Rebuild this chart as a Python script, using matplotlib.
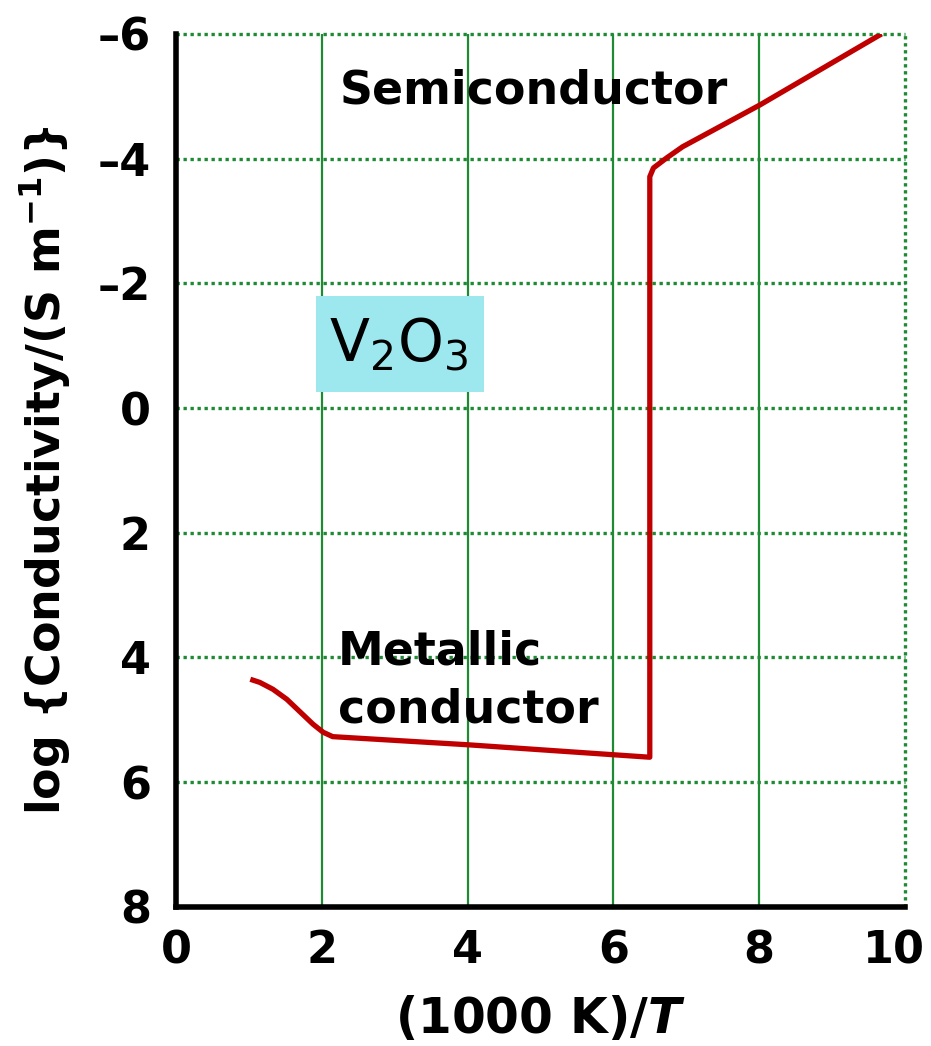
import matplotlib
matplotlib.use("Agg")
from matplotlib import pyplot as plt
from matplotlib.patches import Rectangle
from matplotlib.transforms import ScaledTranslation

# curve: (1000 K)/T vs log conductivity
inv_T = [1.02, 1.15, 1.33, 1.52, 1.70, 1.88, 2.02, 2.15, 4.0, 6.50,
         6.50, 6.55, 6.73, 6.95, 8.01, 9.68]
log_sigma = [4.35, 4.40, 4.51, 4.67, 4.87, 5.07, 5.20, 5.27, 5.40, 5.60,
             -3.71, -3.85, -4.01, -4.19, -4.86, -6.0]

x_ticks = [0, 2, 4, 6, 8, 10]
y_ticks = [-6, -4, -2, 0, 2, 4, 6, 8]
y_tick_labels = ['\u20136', '\u20134', '\u20132', '0', '2', '4', '6', '8']

GREEN = '#1f8a34'
RED = '#c00000'
DOTS = (0, (1, 1.1))

fig = plt.figure(figsize=(9.31, 10.46), dpi=100)
ax = fig.add_axes([0.189, 0.133, 0.783, 0.8346])

ax.set_xlim(0, 10)
ax.set_ylim(8, -6)

for x in x_ticks[1:-1]:
    ax.axvline(x, color=GREEN, lw=1.6, zorder=1)
ax.axvline(10, color=GREEN, lw=2.4, ls=DOTS, zorder=1, clip_on=False)
for y in y_ticks[:-1]:
    ax.axhline(y, color=GREEN, lw=2.4, ls=DOTS, zorder=1, clip_on=False)

ax.plot(inv_T, log_sigma, color=RED, lw=3.8, solid_joinstyle='round',
        solid_capstyle='butt', zorder=3)

for side in ['top', 'right']:
    ax.spines[side].set_visible(False)
for side in ['left', 'bottom']:
    ax.spines[side].set_linewidth(4)
    ax.spines[side].set_color('black')

ax.set_xticks(x_ticks)
ax.set_yticks(y_ticks)
ax.set_yticklabels(y_tick_labels)
ax.tick_params(length=0, labelsize=32)
ax.tick_params(axis='x', pad=16)
ax.tick_params(axis='y', pad=18)
for lab in ax.get_xticklabels() + ax.get_yticklabels():
    lab.set_fontweight('bold')

# nudge the last x label left so it stays inside the figure
last = ax.get_xticklabels()[-1]
last.set_transform(last.get_transform() +
                   ScaledTranslation(-11 / 100, 0, fig.dpi_scale_trans))

ax.set_xlabel('(1000 K)/$\\mathbfit{T}$', fontsize=35, fontweight='bold',
              labelpad=16)
ax.set_ylabel('log {Conductivity/(S m$^{\\mathbf{\u22121}}$)}', fontsize=33,
              fontweight='bold', labelpad=18)

ax.text(2.25, -4.89, 'Semiconductor', fontsize=33, fontweight='bold',
        va='baseline', ha='left', zorder=4)
ax.text(2.22, 4.11, 'Metallic', fontsize=33, fontweight='bold',
        va='baseline', ha='left', zorder=4)
ax.text(2.22, 5.04, 'conductor', fontsize=33, fontweight='bold',
        va='baseline', ha='left', zorder=4)

ax.add_patch(Rectangle((1.92, -1.79), 2.30, 1.54, fc='#9de8ef', ec='none',
                       zorder=2))
ax.text(3.05, -1.02, 'V$_2$O$_3$', fontsize=42, ha='center', va='center',
        zorder=4)

fig.savefig('out.png', dpi=100)
